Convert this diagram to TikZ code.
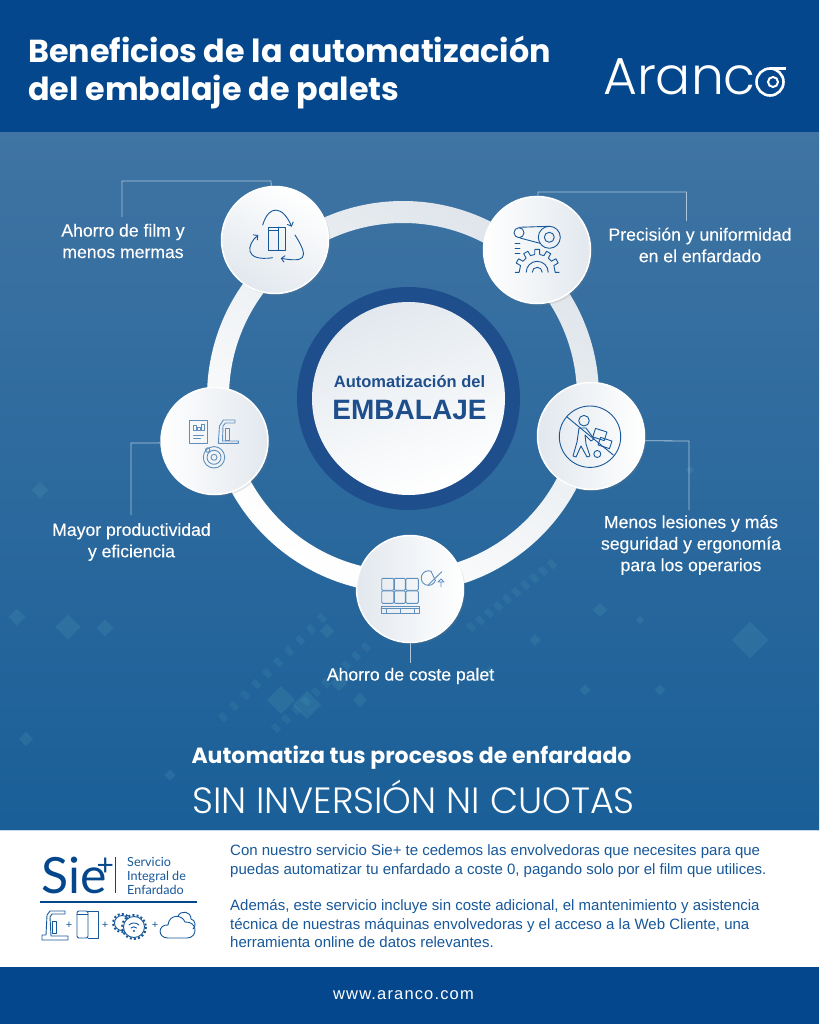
\documentclass[tikz,border=0pt]{standalone}
\usepackage{fontspec}
\setmainfont{Liberation Sans}
\newfontfamily\titlefont{Poppins}
\newfontfamily\lightfont{Poppins Light}
\newfontfamily\badgefont{Lato}
\usepackage{tikz}
\usetikzlibrary{arrows,positioning,shadows,calc}
\definecolor{navy}{HTML}{04478C}
\definecolor{skytop}{HTML}{3F74A3}
\definecolor{skylow}{HTML}{1A5F98}
\definecolor{inkblue}{HTML}{17589A}
\definecolor{paleink}{HTML}{5F90BD}
\definecolor{ringgrey}{HTML}{DFE5EB}
\definecolor{discgrey}{HTML}{E2E8EE}
\definecolor{midnavy}{HTML}{1E4E8C}
\definecolor{leader}{HTML}{AFC6DA}
\definecolor{speck}{HTML}{6FC0C8}
\tikzset{
  disc/.style={circle,minimum size=107pt,inner sep=0pt,draw=white,line width=1.5pt,left color=white,right color=discgrey,drop shadow={opacity=0.18,shadow xshift=2pt,shadow yshift=-2pt}},
  discflip/.style={disc,left color=discgrey,right color=white},
  blurb/.style={text=white,align=center,font=\fontsize{17.6}{21.5}\selectfont\addfontfeature{FakeBold=0.25}},
  leadline/.style={draw=leader,line width=0.8pt},
  icon/.style={draw=inkblue,line width=0.9pt,fill=none,line cap=round,line join=round,>=angle 90},
  paleicon/.style={icon,draw=paleink},
  para/.style={text=inkblue,anchor=north west,align=left,font=\fontsize{15}{18.6}\selectfont},
  addsign/.style={text=inkblue,font=\fontsize{11}{11}\selectfont},
}
\begin{document}
\begin{tikzpicture}[x=1pt,y=-1pt]
\useasboundingbox (0,0) rectangle (819,1024);
\fill[top color=skytop,bottom color=skylow] (0,132) rectangle (819,830);
\fill[navy] (0,0) rectangle (819,132);
\fill[white] (0,830) rectangle (819,967);
\fill[navy] (0,967) rectangle (819,1024);
\draw[color=leader!70,line width=1pt] (0,830.5) -- (819,830.5);
\foreach \x/\y/\s in {68/627/18,17/617/12,281/700/20,307/705/20,339/683/12,327/631/10,26/739/10,105/628/12,40/490/12,490/672/8,535/640/8,600/610/10,585/690/8,750/640/26,640/620/6,660/690/8,360/700/10,170/775/8,690/470/6}
  \fill[speck,opacity=0.13,rotate around={45:(\x,\y)}] (\x-\s/2,\y-\s/2) rectangle (\x+\s/2,\y+\s/2);
\foreach \i in {0,...,9}{
  \fill[speck,opacity=0.1,rotate around={-45:(222+\i*11,716-\i*11)}] (219+\i*11,713-\i*11) rectangle (228+\i*11,719-\i*11);
  \fill[speck,opacity=0.1,rotate around={-45:(275+\i*10,727-\i*9)}] (272+\i*10,724-\i*9) rectangle (281+\i*10,730-\i*9);
  \fill[speck,opacity=0.1,rotate around={-45:(470+\i*9,626-\i*7)}] (467+\i*9,623-\i*7) rectangle (476+\i*9,629-\i*7);
}
\node[anchor=west,text=white,font=\titlefont\bfseries\fontsize{31.8}{38}\selectfont,align=left,inner sep=0pt] (title) at (28,72) {Beneficios de la automatización\\del embalaje de palets};
\node[anchor=base west,text=white,font=\lightfont\fontsize{52}{52}\selectfont,inner sep=0pt] (logo) at (603,95) {Aranc};
\draw[white,line width=2.6pt] (770,82) circle (13.5);
\draw[white,line width=2pt] (773,82) circle (5);
\draw[white,line width=2.6pt] (770,68.5) -- (786,68.5);
\shade[even odd rule,left color=ringgrey,right color=white,shading angle=-35] (403,397) circle (196) (403,397) circle (174);
\node[circle,minimum size=223pt,fill=midnavy,inner sep=0pt] (hub) at (408.5,398.5) {};
\node[circle,minimum size=193pt,left color=discgrey,right color=white,shading angle=20,inner sep=0pt] (core) at (408.5,398.5) {};
\node[text=midnavy,font=\bfseries\fontsize{16.5}{18}\selectfont] (coretop) at (409.5,382) {Automatización del};
\node[text=midnavy,font=\bfseries\fontsize{28}{30}\selectfont] (corelow) at (409.5,410) {EMBALAJE};
\node[disc,left color=white,right color=discgrey,shading angle=-30] (film) at (275,240) {};
\node[disc] (prec) at (537,250) {};
\node[discflip] (safe) at (591,436) {};
\node[disc] (prod) at (214.5,441) {};
\node[discflip] (cost) at (410,589) {};
\coordinate (filmend) at (122,217);
\coordinate (filmbend) at (122,181);
\coordinate (filmtop) at (271,181);
\coordinate (precend) at (686.5,221);
\coordinate (precbend) at (686.5,192);
\coordinate (prectop) at (538,192);
\coordinate (safeend) at (689,510);
\coordinate (safebend) at (689,441);
\coordinate (prodend) at (131,515);
\coordinate (prodbend) at (131,443);
\coordinate (costend) at (410,663);
\draw[leadline] (filmend) -- (filmbend) -- (filmtop) -- (film.94);
\draw[leadline] (precend) -- (precbend) -- (prectop) -- (prec.89);
\draw[leadline] (safeend) -- (safebend) -- (safe.-5);
\draw[leadline] (prodend) -- (prodbend) -- (prod.182);
\draw[leadline] (cost.south) -- (costend);
\node[blurb] (filmtxt) at (123,241) {Ahorro de film y\\menos mermas};
\node[blurb] (prectxt) at (700,245) {Precisión y uniformidad\\en el enfardado};
\node[blurb] (safetxt) at (691,545) {Menos lesiones y más\\seguridad y ergonomía\\para los operarios};
\node[blurb] (prodtxt) at (131.5,542) {Mayor productividad\\y eficiencia};
\node[blurb] (costtxt) at (410.5,676) {Ahorro de coste palet};
\begin{scope}[shift={(film.center)}]
\draw[icon] (-6.7,-13) rectangle (10,10.7);
\draw[icon] (3.3,-13) -- (3.3,10.7) (-6.7,-10) -- (3.3,-10);
\draw[icon,->] (-12.3,-15) .. controls (-6,-36) and (8,-34) .. (16.7,-13.3);
\draw[icon,->] (-2.3,17.7) .. controls (-32,22) and (-28,4) .. (-16.7,-5);
\draw[icon,->] (20,-5) .. controls (36,20) and (28,22) .. (5.7,18.3);
\end{scope}
\begin{scope}[shift={(prec.center)}]
\draw[icon] (-18,-17.3) circle (5);
\draw[icon] (12.3,-12.7) circle (11) (12.3,-12.7) circle (5);
\draw[icon] (-18,-22.7) -- (12.3,-23.7) (-17,-12) -- (3,-6.7);
\draw[icon] (-22,-6.7) -- (-17,-6.7) (-22,-1.7) -- (-17,-1.7) (-22,3.3) -- (-17,3.3);
\begin{scope}[shift={(0.2,22.3)}]
\draw[icon] (-22,0) -- (-18,0) foreach \a in {-150,-120,-90,-60,-30} {-- (\a-8:18) -- (\a-6:23) -- (\a+6:23) -- (\a+8:18)} -- (18,0) -- (22,0);
\draw[icon] (-11,0) arc (180:360:11);
\draw[icon] (-5,0) arc (180:360:5);
\end{scope}
\end{scope}
\begin{scope}[shift={(safe.center)}]
\draw[icon] (-1,0.7) circle (30.7);
\draw[icon] (-24,-19) -- (22.3,19);
\draw[icon] (-7,-15.3) circle (5.3);
\draw[icon] (-12,-8) -- (-5,-8) -- (3,3) -- (0,5) -- (-6,-1) -- (-5,8) -- (-1,20) -- (-4,21) -- (-10,10) -- (-15,21) -- (-18,20) -- (-14,6) -- cycle;
\draw[icon,rotate around={-18:(9,-2)}] (3,-6) rectangle (15,3);
\draw[icon,rotate around={-18:(14,7)}] (8,3) rectangle (20,11);
\draw[icon] (6.3,18) circle (3.5);
\end{scope}
\begin{scope}[shift={(prod.center)}]
\draw[paleicon] (-25,-21) rectangle (-7,2.3);
\draw[paleicon] (-21,-6) -- (-11,-6) (-21,-2.7) -- (-14,-2.7);
\draw[paleicon] (-21,-16) rectangle (-18,-11) (-17,-14) rectangle (-14,-11) (-13,-17) rectangle (-10,-11);
\draw[paleicon] (20.5,-21) -- (8.8,-21) -- (5,-15) -- (3.8,2.3) -- (23.8,2.3) -- (23.8,0) -- (8,0) -- (8.5,-15) -- (11,-18) -- (20.5,-18) -- cycle;
\draw[paleicon] (10.5,-12.7) rectangle (14.8,-1);
\draw[paleicon] (-0.5,16.3) circle (10.7) (-0.5,16.3) circle (7) (-0.5,16.3) circle (3);
\draw[paleicon] (-6.8,9) circle (2.2);
\end{scope}
\begin{scope}[shift={(cost.center)}]
\foreach \xa/\xb in {-28.3/-16.3,-15.7/-4.6,-4/8.3}{
  \draw[paleicon,rounded corners=1pt] (\xa,-10.7) rectangle (\xb,1.2);
  \draw[paleicon,rounded corners=1pt] (\xa,1.9) rectangle (\xb,14.3);
}
\draw[paleicon] (-29,17) rectangle (9,24.3) (-29,19.5) -- (9,19.5) (-24,19.5) -- (-24,24.3) (-10,19.5) -- (-10,24.3) (4,19.5) -- (4,24.3);
\draw[paleicon] (21,-17.8) arc (-70:-340:7.3) -- cycle;
\draw[paleicon] (18.3,-4) -- (31.7,-17.3);
\draw[paleicon] (31,-2.3) -- (31,-7) (28,-7) -- (31,-10) -- (34,-7) -- cycle;
\end{scope}
\node[text=white,font=\titlefont\bfseries\fontsize{22}{24}\selectfont] (claim) at (411.5,758) {Automatiza tus procesos de enfardado};
\node[text=white,font=\lightfont\fontsize{36.5}{38}\selectfont] (nofee) at (413.5,797) {SIN INVERSIÓN NI CUOTAS};
\node[text=navy,font=\badgefont\fontsize{50}{50}\selectfont,anchor=west,inner sep=0pt] (sie) at (41,875) {Sie\kern-10pt\raisebox{18pt}{\fontsize{30}{30}\selectfont +}};
\draw[navy,line width=1pt] (115,857) -- (115,893);
\node[text=inkblue,anchor=west,align=left,inner sep=0pt,font=\badgefont\fontsize{12.6}{14}\selectfont] (sietxt) at (127,875.5) {Servicio\\Integral de\\Enfardado};
\draw[navy,line width=1.2pt] (40,902) -- (197,902);
\draw[icon] (65,911) -- (50,911) -- (47,915) -- (46,935) -- (42,935) -- (42,940) -- (68,940) -- (68,936) -- (51,936) -- (50,917) -- (52,914) -- (65,914) -- cycle;
\draw[icon] (52,921) rectangle (56,933);
\draw[icon,rounded corners=2pt] (77,911) rectangle (88,938);
\draw[icon] (88,911) -- (98,911) -- (98,938) -- (88,938) (77,914) -- (88,914);
\draw[icon,line width=2pt,dash pattern=on 2pt off 2.2pt,line cap=butt] (122,923) circle (9);
\draw[icon,fill=white] (122,923) circle (7.5);
\draw[icon,line width=2pt,dash pattern=on 2pt off 2.2pt,line cap=butt] (134,927) circle (12);
\draw[icon,fill=white] (134,927) circle (10.5);
\draw[icon] (129,925) arc (225:315:7) (131,928) arc (225:315:4);
\fill[inkblue] (134,931) circle (1.2);
\draw[icon] (168,938) .. controls (157,938) and (158,924) .. (168,925) .. controls (169,914) and (182,914) .. (185,922) .. controls (198,921) and (198,938) .. (187,938) -- cycle;
\draw[icon] (178,916) .. controls (181,910) and (191,911) .. (191,919) .. controls (196,920) and (196,927) .. (193,929);
\node[addsign] (plusa) at (69,925) {+};
\node[addsign] (plusb) at (105,925) {+};
\node[addsign] (plusc) at (155,925) {+};
\node[para] (copya) at (226.7,841) {Con nuestro servicio Sie+ te cedemos las envolvedoras que necesites para que\\puedas automatizar tu enfardado a coste 0, pagando solo por el film que utilices.};
\node[para] (copyb) at (226.7,896) {Además, este servicio incluye sin coste adicional, el mantenimiento y asistencia\\técnica de nuestras máquinas envolvedoras y el acceso a la Web Cliente, una\\herramienta online de datos relevantes.};
\node[text=white,font=\fontsize{16.5}{16}\selectfont\addfontfeature{LetterSpace=7}] (web) at (403.5,995) {www.aranco.com};
\end{tikzpicture}
\end{document}
